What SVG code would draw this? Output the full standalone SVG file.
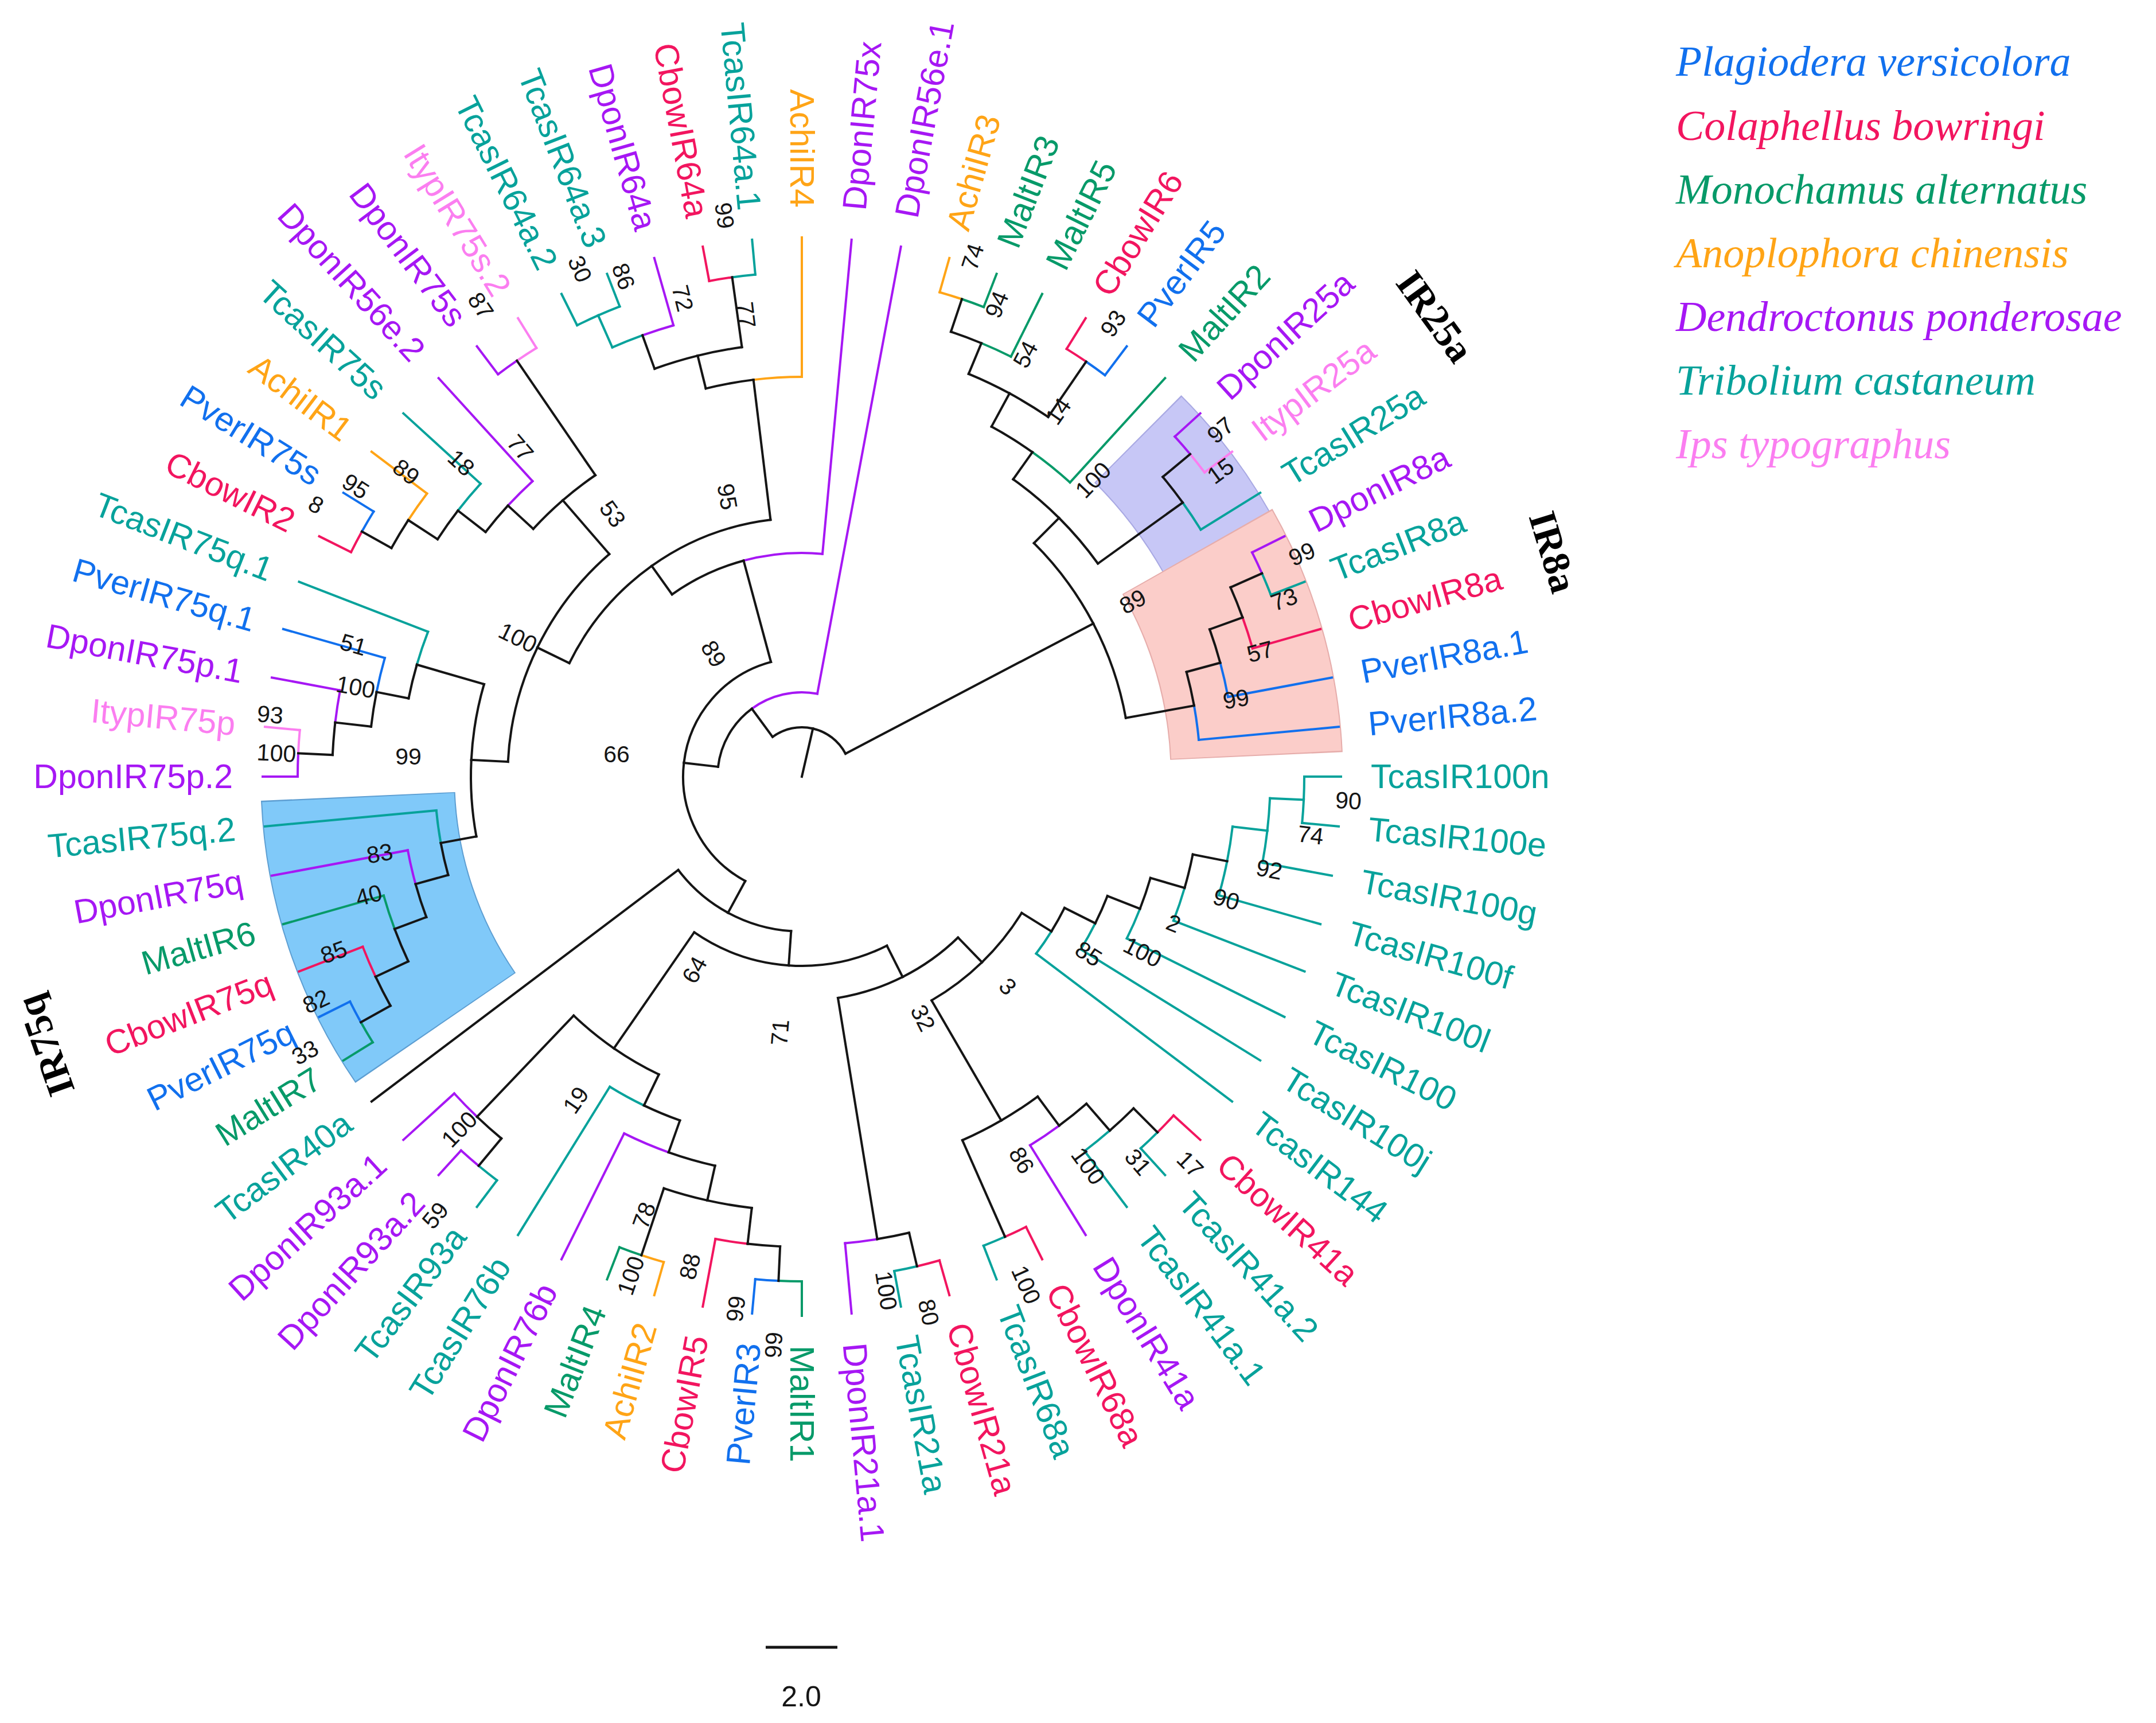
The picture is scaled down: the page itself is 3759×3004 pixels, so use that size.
<svg xmlns="http://www.w3.org/2000/svg" width="3759" height="3004" viewBox="0 0 3759 3004">
<style>
.k{stroke:#151515}
.pv{stroke:#1170ee;fill:#1170ee}
.cb{stroke:#f2155f;fill:#f2155f}
.ma{stroke:#079a69;fill:#079a69}
.ac{stroke:#ffa416;fill:#ffa416}
.dp{stroke:#a617f4;fill:#a617f4}
.tc{stroke:#07a29b;fill:#07a29b}
.it{stroke:#fb7ef0;fill:#fb7ef0}
#connectors path{fill:none}
#leaves text,#legend text{stroke:none}
#leaves{font-family:"Liberation Sans",Arial,sans-serif;font-size:59px}
.bs{font-family:"Liberation Sans",Arial,sans-serif;font-size:41px;fill:#151515;text-anchor:middle}
.cl{font-family:"Liberation Serif","Times New Roman",serif;font-size:68px;font-weight:bold;fill:#000;text-anchor:middle}
#legend text{font-family:"Liberation Serif","Times New Roman",serif;font-style:italic;font-size:74px}
.hl{fill:none}
</style>
<rect width="3759" height="3004" fill="#fff"/>
<g id="highlights" transform="translate(1398 1354)">
<path class="hl" stroke="#5d9ed2" stroke-width="339" pathLength="360" stroke-dasharray="31.9 720" transform="rotate(145.55)" d="M774.5 0A774.5 774.5 0 0 1-774.5 0A774.5 774.5 0 0 1 774.5 0"/>
<path class="hl" stroke="#80c9f9" stroke-width="335" pathLength="360" stroke-dasharray="31.6 720" transform="rotate(145.7)" d="M774.5 0A774.5 774.5 0 0 1-774.5 0A774.5 774.5 0 0 1 774.5 0"/>
<path class="hl" stroke="#a9a9e3" stroke-width="215" pathLength="360" stroke-dasharray="15.8 720" transform="rotate(-45.15)" d="M830.5 0A830.5 830.5 0 0 1-830.5 0A830.5 830.5 0 0 1 830.5 0"/>
<path class="hl" stroke="#c7c7f6" stroke-width="211" pathLength="360" stroke-dasharray="15.5 720" transform="rotate(-45)" d="M830.5 0A830.5 830.5 0 0 1-830.5 0A830.5 830.5 0 0 1 830.5 0"/>
<path class="hl" stroke="#e6adab" stroke-width="301" pathLength="360" stroke-dasharray="27.05 720" transform="rotate(-29.65)" d="M793.5 0A793.5 793.5 0 0 1-793.5 0A793.5 793.5 0 0 1 793.5 0"/>
<path class="hl" stroke="#fbcdc9" stroke-width="297" pathLength="360" stroke-dasharray="26.75 720" transform="rotate(-29.5)" d="M793.5 0A793.5 793.5 0 0 1-793.5 0A793.5 793.5 0 0 1 793.5 0"/>
</g>
<g id="connectors" transform="translate(1398 1354)" stroke-width="4" stroke-linecap="square">
<path class="dp" transform="rotate(275.294)" d="M390 0H940"/><path class="dp" pathLength="360" stroke-dasharray="20.38 720" transform="rotate(254.914)" d="M390 0A390 390 0 0 1-390 0A390 390 0 0 1 390 0"/>
<path class="dp" transform="rotate(280.588)" d="M147 0H940"/><path class="dp" pathLength="360" stroke-dasharray="46.951 720" transform="rotate(233.637)" d="M147 0A147 147 0 0 1-147 0A147 147 0 0 1 147 0"/>
<path class="ac" transform="rotate(-74.118)" d="M878 0H940"/><path class="ac" pathLength="360" stroke-dasharray="2.647 720" transform="rotate(-74.118)" d="M878 0A878 878 0 0 1-878 0A878 878 0 0 1 878 0"/>
<path class="ma" transform="rotate(-68.824)" d="M878 0H940"/><path class="ma" pathLength="360" stroke-dasharray="2.647 720" transform="rotate(-71.471)" d="M878 0A878 878 0 0 1-878 0A878 878 0 0 1 878 0"/>
<path class="ma" transform="rotate(-63.529)" d="M818 0H940"/><path class="ma" pathLength="360" stroke-dasharray="3.971 720" transform="rotate(-67.5)" d="M818 0A818 818 0 0 1-818 0A818 818 0 0 1 818 0"/>
<path class="cb" transform="rotate(-58.235)" d="M877 0H940"/><path class="cb" pathLength="360" stroke-dasharray="2.647 720" transform="rotate(-58.235)" d="M877 0A877 877 0 0 1-877 0A877 877 0 0 1 877 0"/>
<path class="pv" transform="rotate(-52.941)" d="M877 0H940"/><path class="pv" pathLength="360" stroke-dasharray="2.647 720" transform="rotate(-55.588)" d="M877 0A877 877 0 0 1-877 0A877 877 0 0 1 877 0"/>
<path class="ma" transform="rotate(-47.647)" d="M694 0H940"/><path class="ma" pathLength="360" stroke-dasharray="6.949 720" transform="rotate(-54.596)" d="M694 0A694 694 0 0 1-694 0A694 694 0 0 1 694 0"/>
<path class="dp" transform="rotate(-42.353)" d="M880 0H940"/><path class="dp" pathLength="360" stroke-dasharray="2.647 720" transform="rotate(-42.353)" d="M880 0A880 880 0 0 1-880 0A880 880 0 0 1 880 0"/>
<path class="it" transform="rotate(-37.059)" d="M880 0H940"/><path class="it" pathLength="360" stroke-dasharray="2.647 720" transform="rotate(-39.706)" d="M880 0A880 880 0 0 1-880 0A880 880 0 0 1 880 0"/>
<path class="tc" transform="rotate(-31.765)" d="M818 0H940"/><path class="tc" pathLength="360" stroke-dasharray="3.97 720" transform="rotate(-35.735)" d="M818 0A818 818 0 0 1-818 0A818 818 0 0 1 818 0"/>
<path class="dp" transform="rotate(-26.471)" d="M877 0H940"/><path class="dp" pathLength="360" stroke-dasharray="2.647 720" transform="rotate(-26.471)" d="M877 0A877 877 0 0 1-877 0A877 877 0 0 1 877 0"/>
<path class="tc" transform="rotate(-21.176)" d="M877 0H940"/><path class="tc" pathLength="360" stroke-dasharray="2.648 720" transform="rotate(-23.824)" d="M877 0A877 877 0 0 1-877 0A877 877 0 0 1 877 0"/>
<path class="cb" transform="rotate(-15.882)" d="M817 0H940"/><path class="cb" pathLength="360" stroke-dasharray="3.971 720" transform="rotate(-19.853)" d="M817 0A817 817 0 0 1-817 0A817 817 0 0 1 817 0"/>
<path class="pv" transform="rotate(-10.588)" d="M756 0H940"/><path class="pv" pathLength="360" stroke-dasharray="4.633 720" transform="rotate(-15.221)" d="M756 0A756 756 0 0 1-756 0A756 756 0 0 1 756 0"/>
<path class="pv" transform="rotate(-5.294)" d="M695 0H940"/><path class="pv" pathLength="360" stroke-dasharray="4.963 720" transform="rotate(-10.257)" d="M695 0A695 695 0 0 1-695 0A695 695 0 0 1 695 0"/>
<path class="tc" transform="rotate(0)" d="M876 0H940"/><path class="tc" pathLength="360" stroke-dasharray="2.647 720" transform="rotate(0)" d="M876 0A876 876 0 0 1-876 0A876 876 0 0 1 876 0"/>
<path class="tc" transform="rotate(5.294)" d="M876 0H940"/><path class="tc" pathLength="360" stroke-dasharray="2.647 720" transform="rotate(2.647)" d="M876 0A876 876 0 0 1-876 0A876 876 0 0 1 876 0"/>
<path class="tc" transform="rotate(10.588)" d="M817 0H940"/><path class="tc" pathLength="360" stroke-dasharray="3.97 720" transform="rotate(6.618)" d="M817 0A817 817 0 0 1-817 0A817 817 0 0 1 817 0"/>
<path class="tc" transform="rotate(15.882)" d="M756 0H940"/><path class="tc" pathLength="360" stroke-dasharray="4.632 720" transform="rotate(11.25)" d="M756 0A756 756 0 0 1-756 0A756 756 0 0 1 756 0"/>
<path class="tc" transform="rotate(21.176)" d="M695 0H940"/><path class="tc" pathLength="360" stroke-dasharray="4.963 720" transform="rotate(16.213)" d="M695 0A695 695 0 0 1-695 0A695 695 0 0 1 695 0"/>
<path class="tc" transform="rotate(26.471)" d="M633 0H940"/><path class="tc" pathLength="360" stroke-dasharray="5.129 720" transform="rotate(21.342)" d="M633 0A633 633 0 0 1-633 0A633 633 0 0 1 633 0"/>
<path class="tc" transform="rotate(31.765)" d="M572 0H940"/><path class="tc" pathLength="360" stroke-dasharray="5.212 720" transform="rotate(26.553)" d="M572 0A572 572 0 0 1-572 0A572 572 0 0 1 572 0"/>
<path class="tc" transform="rotate(37.059)" d="M512 0H940"/><path class="tc" pathLength="360" stroke-dasharray="5.253 720" transform="rotate(31.806)" d="M512 0A512 512 0 0 1-512 0A512 512 0 0 1 512 0"/>
<path class="cb" transform="rotate(42.353)" d="M877 0H940"/><path class="cb" pathLength="360" stroke-dasharray="2.647 720" transform="rotate(42.353)" d="M877 0A877 877 0 0 1-877 0A877 877 0 0 1 877 0"/>
<path class="tc" transform="rotate(47.647)" d="M877 0H940"/><path class="tc" pathLength="360" stroke-dasharray="2.647 720" transform="rotate(45)" d="M877 0A877 877 0 0 1-877 0A877 877 0 0 1 877 0"/>
<path class="tc" transform="rotate(52.941)" d="M818 0H940"/><path class="tc" pathLength="360" stroke-dasharray="3.97 720" transform="rotate(48.971)" d="M818 0A818 818 0 0 1-818 0A818 818 0 0 1 818 0"/>
<path class="dp" transform="rotate(58.235)" d="M756 0H940"/><path class="dp" pathLength="360" stroke-dasharray="4.632 720" transform="rotate(53.603)" d="M756 0A756 756 0 0 1-756 0A756 756 0 0 1 756 0"/>
<path class="cb" transform="rotate(63.529)" d="M877 0H940"/><path class="cb" pathLength="360" stroke-dasharray="2.647 720" transform="rotate(63.529)" d="M877 0A877 877 0 0 1-877 0A877 877 0 0 1 877 0"/>
<path class="tc" transform="rotate(68.824)" d="M877 0H940"/><path class="tc" pathLength="360" stroke-dasharray="2.648 720" transform="rotate(66.176)" d="M877 0A877 877 0 0 1-877 0A877 877 0 0 1 877 0"/>
<path class="cb" transform="rotate(74.118)" d="M877 0H940"/><path class="cb" pathLength="360" stroke-dasharray="2.647 720" transform="rotate(74.118)" d="M877 0A877 877 0 0 1-877 0A877 877 0 0 1 877 0"/>
<path class="tc" transform="rotate(79.412)" d="M877 0H940"/><path class="tc" pathLength="360" stroke-dasharray="2.647 720" transform="rotate(76.765)" d="M877 0A877 877 0 0 1-877 0A877 877 0 0 1 877 0"/>
<path class="dp" transform="rotate(84.706)" d="M817 0H940"/><path class="dp" pathLength="360" stroke-dasharray="3.971 720" transform="rotate(80.735)" d="M817 0A817 817 0 0 1-817 0A817 817 0 0 1 817 0"/>
<path class="ma" transform="rotate(90)" d="M880 0H940"/><path class="ma" pathLength="360" stroke-dasharray="2.647 720" transform="rotate(90)" d="M880 0A880 880 0 0 1-880 0A880 880 0 0 1 880 0"/>
<path class="pv" transform="rotate(95.294)" d="M880 0H940"/><path class="pv" pathLength="360" stroke-dasharray="2.647 720" transform="rotate(92.647)" d="M880 0A880 880 0 0 1-880 0A880 880 0 0 1 880 0"/>
<path class="cb" transform="rotate(100.588)" d="M820 0H940"/><path class="cb" pathLength="360" stroke-dasharray="3.97 720" transform="rotate(96.618)" d="M820 0A820 820 0 0 1-820 0A820 820 0 0 1 820 0"/>
<path class="ac" transform="rotate(105.882)" d="M880 0H940"/><path class="ac" pathLength="360" stroke-dasharray="2.647 720" transform="rotate(105.882)" d="M880 0A880 880 0 0 1-880 0A880 880 0 0 1 880 0"/>
<path class="ma" transform="rotate(111.176)" d="M880 0H940"/><path class="ma" pathLength="360" stroke-dasharray="2.647 720" transform="rotate(108.529)" d="M880 0A880 880 0 0 1-880 0A880 880 0 0 1 880 0"/>
<path class="dp" transform="rotate(116.471)" d="M695 0H940"/><path class="dp" pathLength="360" stroke-dasharray="6.949 720" transform="rotate(109.522)" d="M695 0A695 695 0 0 1-695 0A695 695 0 0 1 695 0"/>
<path class="tc" transform="rotate(121.765)" d="M636 0H940"/><path class="tc" pathLength="360" stroke-dasharray="6.122 720" transform="rotate(115.643)" d="M636 0A636 636 0 0 1-636 0A636 636 0 0 1 636 0"/>
<path class="tc" transform="rotate(127.059)" d="M882 0H940"/><path class="tc" pathLength="360" stroke-dasharray="2.647 720" transform="rotate(127.059)" d="M882 0A882 882 0 0 1-882 0A882 882 0 0 1 882 0"/>
<path class="dp" transform="rotate(132.353)" d="M882 0H940"/><path class="dp" pathLength="360" stroke-dasharray="2.647 720" transform="rotate(129.706)" d="M882 0A882 882 0 0 1-882 0A882 882 0 0 1 882 0"/>
<path class="dp" transform="rotate(137.647)" d="M820 0H940"/><path class="dp" pathLength="360" stroke-dasharray="3.971 720" transform="rotate(133.676)" d="M820 0A820 820 0 0 1-820 0A820 820 0 0 1 820 0"/>
<path class="k" transform="rotate(142.941)" d="M270 0H940"/><path class="k" pathLength="360" stroke-dasharray="24.483 720" transform="rotate(118.458)" d="M270 0A270 270 0 0 1-270 0A270 270 0 0 1 270 0"/>
<path class="ma" transform="rotate(148.235)" d="M880 0H940"/><path class="ma" pathLength="360" stroke-dasharray="2.647 720" transform="rotate(148.235)" d="M880 0A880 880 0 0 1-880 0A880 880 0 0 1 880 0"/>
<path class="pv" transform="rotate(153.529)" d="M880 0H940"/><path class="pv" pathLength="360" stroke-dasharray="2.647 720" transform="rotate(150.882)" d="M880 0A880 880 0 0 1-880 0A880 880 0 0 1 880 0"/>
<path class="cb" transform="rotate(158.824)" d="M821 0H940"/><path class="cb" pathLength="360" stroke-dasharray="3.971 720" transform="rotate(154.853)" d="M821 0A821 821 0 0 1-821 0A821 821 0 0 1 821 0"/>
<path class="ma" transform="rotate(164.118)" d="M758 0H940"/><path class="ma" pathLength="360" stroke-dasharray="4.633 720" transform="rotate(159.485)" d="M758 0A758 758 0 0 1-758 0A758 758 0 0 1 758 0"/>
<path class="dp" transform="rotate(169.412)" d="M699 0H940"/><path class="dp" pathLength="360" stroke-dasharray="4.963 720" transform="rotate(164.449)" d="M699 0A699 699 0 0 1-699 0A699 699 0 0 1 699 0"/>
<path class="tc" transform="rotate(174.706)" d="M640 0H940"/><path class="tc" pathLength="360" stroke-dasharray="5.129 720" transform="rotate(169.577)" d="M640 0A640 640 0 0 1-640 0A640 640 0 0 1 640 0"/>
<path class="dp" transform="rotate(180)" d="M879 0H940"/><path class="dp" pathLength="360" stroke-dasharray="2.647 720" transform="rotate(180)" d="M879 0A879 879 0 0 1-879 0A879 879 0 0 1 879 0"/>
<path class="it" transform="rotate(185.294)" d="M879 0H940"/><path class="it" pathLength="360" stroke-dasharray="2.647 720" transform="rotate(182.647)" d="M879 0A879 879 0 0 1-879 0A879 879 0 0 1 879 0"/>
<path class="dp" transform="rotate(190.588)" d="M819 0H940"/><path class="dp" pathLength="360" stroke-dasharray="3.97 720" transform="rotate(186.618)" d="M819 0A819 819 0 0 1-819 0A819 819 0 0 1 819 0"/>
<path class="pv" transform="rotate(195.882)" d="M756 0H940"/><path class="pv" pathLength="360" stroke-dasharray="4.632 720" transform="rotate(191.25)" d="M756 0A756 756 0 0 1-756 0A756 756 0 0 1 756 0"/>
<path class="tc" transform="rotate(201.176)" d="M699 0H940"/><path class="tc" pathLength="360" stroke-dasharray="4.963 720" transform="rotate(196.213)" d="M699 0A699 699 0 0 1-699 0A699 699 0 0 1 699 0"/>
<path class="cb" transform="rotate(206.471)" d="M878 0H940"/><path class="cb" pathLength="360" stroke-dasharray="2.647 720" transform="rotate(206.471)" d="M878 0A878 878 0 0 1-878 0A878 878 0 0 1 878 0"/>
<path class="pv" transform="rotate(211.765)" d="M878 0H940"/><path class="pv" pathLength="360" stroke-dasharray="2.647 720" transform="rotate(209.118)" d="M878 0A878 878 0 0 1-878 0A878 878 0 0 1 878 0"/>
<path class="ac" transform="rotate(217.059)" d="M819 0H940"/><path class="ac" pathLength="360" stroke-dasharray="3.971 720" transform="rotate(213.088)" d="M819 0A819 819 0 0 1-819 0A819 819 0 0 1 819 0"/>
<path class="tc" transform="rotate(222.353)" d="M758 0H940"/><path class="tc" pathLength="360" stroke-dasharray="4.632 720" transform="rotate(217.721)" d="M758 0A758 758 0 0 1-758 0A758 758 0 0 1 758 0"/>
<path class="dp" transform="rotate(227.647)" d="M697 0H940"/><path class="dp" pathLength="360" stroke-dasharray="4.963 720" transform="rotate(222.684)" d="M697 0A697 697 0 0 1-697 0A697 697 0 0 1 697 0"/>
<path class="dp" transform="rotate(232.941)" d="M879 0H940"/><path class="dp" pathLength="360" stroke-dasharray="2.647 720" transform="rotate(232.941)" d="M879 0A879 879 0 0 1-879 0A879 879 0 0 1 879 0"/>
<path class="it" transform="rotate(238.235)" d="M879 0H940"/><path class="it" pathLength="360" stroke-dasharray="2.647 720" transform="rotate(235.588)" d="M879 0A879 879 0 0 1-879 0A879 879 0 0 1 879 0"/>
<path class="tc" transform="rotate(243.529)" d="M879 0H940"/><path class="tc" pathLength="360" stroke-dasharray="2.647 720" transform="rotate(243.529)" d="M879 0A879 879 0 0 1-879 0A879 879 0 0 1 879 0"/>
<path class="tc" transform="rotate(248.824)" d="M879 0H940"/><path class="tc" pathLength="360" stroke-dasharray="2.648 720" transform="rotate(246.176)" d="M879 0A879 879 0 0 1-879 0A879 879 0 0 1 879 0"/>
<path class="dp" transform="rotate(254.118)" d="M818 0H940"/><path class="dp" pathLength="360" stroke-dasharray="3.971 720" transform="rotate(250.147)" d="M818 0A818 818 0 0 1-818 0A818 818 0 0 1 818 0"/>
<path class="cb" transform="rotate(259.412)" d="M879 0H940"/><path class="cb" pathLength="360" stroke-dasharray="2.647 720" transform="rotate(259.412)" d="M879 0A879 879 0 0 1-879 0A879 879 0 0 1 879 0"/>
<path class="tc" transform="rotate(264.706)" d="M879 0H940"/><path class="tc" pathLength="360" stroke-dasharray="2.647 720" transform="rotate(262.059)" d="M879 0A879 879 0 0 1-879 0A879 879 0 0 1 879 0"/>
<path class="ac" transform="rotate(270)" d="M697 0H940"/><path class="ac" pathLength="360" stroke-dasharray="6.949 720" transform="rotate(263.051)" d="M697 0A697 697 0 0 1-697 0A697 697 0 0 1 697 0"/>
<path class="k" transform="rotate(182.647)" d="M819 0H879"/><path class="k" pathLength="360" stroke-dasharray="3.971 720" transform="rotate(182.647)" d="M819 0A819 819 0 0 1-819 0A819 819 0 0 1 819 0"/>
<path class="k" transform="rotate(186.618)" d="M756 0H819"/><path class="k" pathLength="360" stroke-dasharray="4.632 720" transform="rotate(186.618)" d="M756 0A756 756 0 0 1-756 0A756 756 0 0 1 756 0"/>
<path class="k" transform="rotate(191.25)" d="M699 0H756"/><path class="k" pathLength="360" stroke-dasharray="4.963 720" transform="rotate(191.25)" d="M699 0A699 699 0 0 1-699 0A699 699 0 0 1 699 0"/>
<path class="k" transform="rotate(196.213)" d="M577 0H699"/><path class="k" pathLength="360" stroke-dasharray="13.318 720" transform="rotate(182.895)" d="M577 0A577 577 0 0 1-577 0A577 577 0 0 1 577 0"/>
<path class="k" transform="rotate(150.882)" d="M821 0H880"/><path class="k" pathLength="360" stroke-dasharray="3.971 720" transform="rotate(150.882)" d="M821 0A821 821 0 0 1-821 0A821 821 0 0 1 821 0"/>
<path class="k" transform="rotate(154.853)" d="M758 0H821"/><path class="k" pathLength="360" stroke-dasharray="4.632 720" transform="rotate(154.853)" d="M758 0A758 758 0 0 1-758 0A758 758 0 0 1 758 0"/>
<path class="k" transform="rotate(159.485)" d="M699 0H758"/><path class="k" pathLength="360" stroke-dasharray="4.964 720" transform="rotate(159.485)" d="M699 0A699 699 0 0 1-699 0A699 699 0 0 1 699 0"/>
<path class="k" transform="rotate(164.449)" d="M640 0H699"/><path class="k" pathLength="360" stroke-dasharray="5.128 720" transform="rotate(164.449)" d="M640 0A640 640 0 0 1-640 0A640 640 0 0 1 640 0"/>
<path class="k" transform="rotate(169.577)" d="M577 0H640"/><path class="k" pathLength="360" stroke-dasharray="13.318 720" transform="rotate(169.577)" d="M577 0A577 577 0 0 1-577 0A577 577 0 0 1 577 0"/>
<path class="k" transform="rotate(182.895)" d="M513 0H577"/><path class="k" pathLength="360" stroke-dasharray="23.121 720" transform="rotate(182.895)" d="M513 0A513 513 0 0 1-513 0A513 513 0 0 1 513 0"/>
<path class="k" transform="rotate(209.118)" d="M819 0H878"/><path class="k" pathLength="360" stroke-dasharray="3.97 720" transform="rotate(209.118)" d="M819 0A819 819 0 0 1-819 0A819 819 0 0 1 819 0"/>
<path class="k" transform="rotate(213.088)" d="M758 0H819"/><path class="k" pathLength="360" stroke-dasharray="4.633 720" transform="rotate(213.088)" d="M758 0A758 758 0 0 1-758 0A758 758 0 0 1 758 0"/>
<path class="k" transform="rotate(217.721)" d="M697 0H758"/><path class="k" pathLength="360" stroke-dasharray="4.963 720" transform="rotate(217.721)" d="M697 0A697 697 0 0 1-697 0A697 697 0 0 1 697 0"/>
<path class="k" transform="rotate(222.684)" d="M637 0H697"/><path class="k" pathLength="360" stroke-dasharray="6.452 720" transform="rotate(222.684)" d="M637 0A637 637 0 0 1-637 0A637 637 0 0 1 637 0"/>
<path class="k" transform="rotate(235.588)" d="M637 0H879"/><path class="k" pathLength="360" stroke-dasharray="6.452 720" transform="rotate(229.136)" d="M637 0A637 637 0 0 1-637 0A637 637 0 0 1 637 0"/>
<path class="k" transform="rotate(229.136)" d="M513 0H637"/><path class="k" pathLength="360" stroke-dasharray="23.12 720" transform="rotate(206.016)" d="M513 0A513 513 0 0 1-513 0A513 513 0 0 1 513 0"/>
<path class="k" transform="rotate(206.016)" d="M451 0H513"/><path class="k" pathLength="360" stroke-dasharray="28.518 720" transform="rotate(206.016)" d="M451 0A451 451 0 0 1-451 0A451 451 0 0 1 451 0"/>
<path class="tc" transform="rotate(246.176)" d="M818 0H879"/><path class="tc" pathLength="360" stroke-dasharray="3.971 720" transform="rotate(246.176)" d="M818 0A818 818 0 0 1-818 0A818 818 0 0 1 818 0"/>
<path class="k" transform="rotate(250.147)" d="M756 0H818"/><path class="k" pathLength="360" stroke-dasharray="5.956 720" transform="rotate(250.147)" d="M756 0A756 756 0 0 1-756 0A756 756 0 0 1 756 0"/>
<path class="k" transform="rotate(262.059)" d="M756 0H879"/><path class="k" pathLength="360" stroke-dasharray="5.956 720" transform="rotate(256.103)" d="M756 0A756 756 0 0 1-756 0A756 756 0 0 1 756 0"/>
<path class="k" transform="rotate(256.103)" d="M697 0H756"/><path class="k" pathLength="360" stroke-dasharray="6.948 720" transform="rotate(256.103)" d="M697 0A697 697 0 0 1-697 0A697 697 0 0 1 697 0"/>
<path class="k" transform="rotate(263.051)" d="M451 0H697"/><path class="k" pathLength="360" stroke-dasharray="28.517 720" transform="rotate(234.534)" d="M451 0A451 451 0 0 1-451 0A451 451 0 0 1 451 0"/>
<path class="k" transform="rotate(234.534)" d="M390 0H451"/><path class="k" pathLength="360" stroke-dasharray="20.38 720" transform="rotate(234.534)" d="M390 0A390 390 0 0 1-390 0A390 390 0 0 1 390 0"/>
<path class="k" transform="rotate(254.914)" d="M207 0H390"/><path class="k" pathLength="360" stroke-dasharray="68.228 720" transform="rotate(186.686)" d="M207 0A207 207 0 0 1-207 0A207 207 0 0 1 207 0"/>
<path class="k" transform="rotate(129.706)" d="M820 0H882"/><path class="k" pathLength="360" stroke-dasharray="3.97 720" transform="rotate(129.706)" d="M820 0A820 820 0 0 1-820 0A820 820 0 0 1 820 0"/>
<path class="k" transform="rotate(133.676)" d="M576 0H820"/><path class="k" pathLength="360" stroke-dasharray="9.016 720" transform="rotate(124.66)" d="M576 0A576 576 0 0 1-576 0A576 576 0 0 1 576 0"/>
<path class="k" transform="rotate(92.647)" d="M820 0H880"/><path class="k" pathLength="360" stroke-dasharray="3.971 720" transform="rotate(92.647)" d="M820 0A820 820 0 0 1-820 0A820 820 0 0 1 820 0"/>
<path class="k" transform="rotate(96.618)" d="M757 0H820"/><path class="k" pathLength="360" stroke-dasharray="5.956 720" transform="rotate(96.618)" d="M757 0A757 757 0 0 1-757 0A757 757 0 0 1 757 0"/>
<path class="k" transform="rotate(108.529)" d="M757 0H880"/><path class="k" pathLength="360" stroke-dasharray="5.955 720" transform="rotate(102.574)" d="M757 0A757 757 0 0 1-757 0A757 757 0 0 1 757 0"/>
<path class="k" transform="rotate(102.574)" d="M695 0H757"/><path class="k" pathLength="360" stroke-dasharray="6.948 720" transform="rotate(102.574)" d="M695 0A695 695 0 0 1-695 0A695 695 0 0 1 695 0"/>
<path class="k" transform="rotate(109.522)" d="M636 0H695"/><path class="k" pathLength="360" stroke-dasharray="6.121 720" transform="rotate(109.522)" d="M636 0A636 636 0 0 1-636 0A636 636 0 0 1 636 0"/>
<path class="k" transform="rotate(115.643)" d="M576 0H636"/><path class="k" pathLength="360" stroke-dasharray="9.017 720" transform="rotate(115.643)" d="M576 0A576 576 0 0 1-576 0A576 576 0 0 1 576 0"/>
<path class="k" transform="rotate(124.66)" d="M330 0H576"/><path class="k" pathLength="360" stroke-dasharray="30.685 720" transform="rotate(93.975)" d="M330 0A330 330 0 0 1-330 0A330 330 0 0 1 330 0"/>
<path class="k" transform="rotate(76.765)" d="M817 0H877"/><path class="k" pathLength="360" stroke-dasharray="3.97 720" transform="rotate(76.765)" d="M817 0A817 817 0 0 1-817 0A817 817 0 0 1 817 0"/>
<path class="k" transform="rotate(80.735)" d="M391 0H817"/><path class="k" pathLength="360" stroke-dasharray="17.445 720" transform="rotate(63.29)" d="M391 0A391 391 0 0 1-391 0A391 391 0 0 1 391 0"/>
<path class="k" transform="rotate(66.176)" d="M693 0H877"/><path class="k" pathLength="360" stroke-dasharray="6.286 720" transform="rotate(59.89)" d="M693 0A693 693 0 0 1-693 0A693 693 0 0 1 693 0"/>
<path class="k" transform="rotate(45)" d="M818 0H877"/><path class="k" pathLength="360" stroke-dasharray="3.971 720" transform="rotate(45)" d="M818 0A818 818 0 0 1-818 0A818 818 0 0 1 818 0"/>
<path class="k" transform="rotate(48.971)" d="M756 0H818"/><path class="k" pathLength="360" stroke-dasharray="4.632 720" transform="rotate(48.971)" d="M756 0A756 756 0 0 1-756 0A756 756 0 0 1 756 0"/>
<path class="k" transform="rotate(53.603)" d="M693 0H756"/><path class="k" pathLength="360" stroke-dasharray="6.287 720" transform="rotate(53.603)" d="M693 0A693 693 0 0 1-693 0A693 693 0 0 1 693 0"/>
<path class="k" transform="rotate(59.89)" d="M451 0H693"/><path class="k" pathLength="360" stroke-dasharray="14.042 720" transform="rotate(45.848)" d="M451 0A451 451 0 0 1-451 0A451 451 0 0 1 451 0"/>
<path class="tc" transform="rotate(2.647)" d="M817 0H876"/><path class="tc" pathLength="360" stroke-dasharray="3.971 720" transform="rotate(2.647)" d="M817 0A817 817 0 0 1-817 0A817 817 0 0 1 817 0"/>
<path class="tc" transform="rotate(6.618)" d="M756 0H817"/><path class="tc" pathLength="360" stroke-dasharray="4.632 720" transform="rotate(6.618)" d="M756 0A756 756 0 0 1-756 0A756 756 0 0 1 756 0"/>
<path class="k" transform="rotate(11.25)" d="M695 0H756"/><path class="k" pathLength="360" stroke-dasharray="4.963 720" transform="rotate(11.25)" d="M695 0A695 695 0 0 1-695 0A695 695 0 0 1 695 0"/>
<path class="k" transform="rotate(16.213)" d="M633 0H695"/><path class="k" pathLength="360" stroke-dasharray="5.129 720" transform="rotate(16.213)" d="M633 0A633 633 0 0 1-633 0A633 633 0 0 1 633 0"/>
<path class="k" transform="rotate(21.342)" d="M572 0H633"/><path class="k" pathLength="360" stroke-dasharray="5.211 720" transform="rotate(21.342)" d="M572 0A572 572 0 0 1-572 0A572 572 0 0 1 572 0"/>
<path class="k" transform="rotate(26.553)" d="M512 0H572"/><path class="k" pathLength="360" stroke-dasharray="5.253 720" transform="rotate(26.553)" d="M512 0A512 512 0 0 1-512 0A512 512 0 0 1 512 0"/>
<path class="k" transform="rotate(31.806)" d="M451 0H512"/><path class="k" pathLength="360" stroke-dasharray="14.042 720" transform="rotate(31.806)" d="M451 0A451 451 0 0 1-451 0A451 451 0 0 1 451 0"/>
<path class="k" transform="rotate(45.848)" d="M391 0H451"/><path class="k" pathLength="360" stroke-dasharray="17.442 720" transform="rotate(45.848)" d="M391 0A391 391 0 0 1-391 0A391 391 0 0 1 391 0"/>
<path class="k" transform="rotate(63.29)" d="M330 0H391"/><path class="k" pathLength="360" stroke-dasharray="30.685 720" transform="rotate(63.29)" d="M330 0A330 330 0 0 1-330 0A330 330 0 0 1 330 0"/>
<path class="k" transform="rotate(93.975)" d="M270 0H330"/><path class="k" pathLength="360" stroke-dasharray="24.483 720" transform="rotate(93.975)" d="M270 0A270 270 0 0 1-270 0A270 270 0 0 1 270 0"/>
<path class="k" transform="rotate(118.458)" d="M207 0H270"/><path class="k" pathLength="360" stroke-dasharray="68.228 720" transform="rotate(118.458)" d="M207 0A207 207 0 0 1-207 0A207 207 0 0 1 207 0"/>
<path class="k" transform="rotate(186.686)" d="M147 0H207"/><path class="k" pathLength="360" stroke-dasharray="46.951 720" transform="rotate(186.686)" d="M147 0A147 147 0 0 1-147 0A147 147 0 0 1 147 0"/>
<path class="k" transform="rotate(233.637)" d="M86 0H147"/><path class="k" pathLength="360" stroke-dasharray="49.326 720" transform="rotate(233.637)" d="M86 0A86 86 0 0 1-86 0A86 86 0 0 1 86 0"/>
<path class="k" transform="rotate(-71.471)" d="M818 0H878"/><path class="k" pathLength="360" stroke-dasharray="3.971 720" transform="rotate(-71.471)" d="M818 0A818 818 0 0 1-818 0A818 818 0 0 1 818 0"/>
<path class="k" transform="rotate(-67.5)" d="M760 0H818"/><path class="k" pathLength="360" stroke-dasharray="5.956 720" transform="rotate(-67.5)" d="M760 0A760 760 0 0 1-760 0A760 760 0 0 1 760 0"/>
<path class="k" transform="rotate(-55.588)" d="M760 0H877"/><path class="k" pathLength="360" stroke-dasharray="5.956 720" transform="rotate(-61.544)" d="M760 0A760 760 0 0 1-760 0A760 760 0 0 1 760 0"/>
<path class="k" transform="rotate(-61.544)" d="M694 0H760"/><path class="k" pathLength="360" stroke-dasharray="6.948 720" transform="rotate(-61.544)" d="M694 0A694 694 0 0 1-694 0A694 694 0 0 1 694 0"/>
<path class="k" transform="rotate(-54.596)" d="M636 0H694"/><path class="k" pathLength="360" stroke-dasharray="9.431 720" transform="rotate(-54.596)" d="M636 0A636 636 0 0 1-636 0A636 636 0 0 1 636 0"/>
<path class="k" transform="rotate(-39.706)" d="M818 0H880"/><path class="k" pathLength="360" stroke-dasharray="3.971 720" transform="rotate(-39.706)" d="M818 0A818 818 0 0 1-818 0A818 818 0 0 1 818 0"/>
<path class="k" transform="rotate(-35.735)" d="M636 0H818"/><path class="k" pathLength="360" stroke-dasharray="9.43 720" transform="rotate(-45.165)" d="M636 0A636 636 0 0 1-636 0A636 636 0 0 1 636 0"/>
<path class="k" transform="rotate(-45.165)" d="M574 0H636"/><path class="k" pathLength="360" stroke-dasharray="17.454 720" transform="rotate(-45.165)" d="M574 0A574 574 0 0 1-574 0A574 574 0 0 1 574 0"/>
<path class="k" transform="rotate(-23.824)" d="M817 0H877"/><path class="k" pathLength="360" stroke-dasharray="3.971 720" transform="rotate(-23.824)" d="M817 0A817 817 0 0 1-817 0A817 817 0 0 1 817 0"/>
<path class="k" transform="rotate(-19.853)" d="M756 0H817"/><path class="k" pathLength="360" stroke-dasharray="4.632 720" transform="rotate(-19.853)" d="M756 0A756 756 0 0 1-756 0A756 756 0 0 1 756 0"/>
<path class="k" transform="rotate(-15.221)" d="M695 0H756"/><path class="k" pathLength="360" stroke-dasharray="4.964 720" transform="rotate(-15.221)" d="M695 0A695 695 0 0 1-695 0A695 695 0 0 1 695 0"/>
<path class="k" transform="rotate(-10.257)" d="M574 0H695"/><path class="k" pathLength="360" stroke-dasharray="17.454 720" transform="rotate(-27.711)" d="M574 0A574 574 0 0 1-574 0A574 574 0 0 1 574 0"/>
<path class="k" transform="rotate(-27.711)" d="M86 0H574"/><path class="k" pathLength="360" stroke-dasharray="49.326 720" transform="rotate(-77.037)" d="M86 0A86 86 0 0 1-86 0A86 86 0 0 1 86 0"/>
<path class="k" transform="rotate(-77.037)" d="M0 0H86"/>
</g>
<g id="leaves" transform="translate(1398 1354)">
<g id="leaf-DponIR75x"><text class="dp" transform="rotate(-84.706)" x="992" y="20">DponIR75x</text></g>
<g id="leaf-DponIR56e_1"><text class="dp" transform="rotate(-79.412)" x="992" y="20">DponIR56e.1</text></g>
<g id="leaf-AchiIR3"><text class="ac" transform="rotate(-74.118)" x="992" y="20">AchiIR3</text></g>
<g id="leaf-MaltIR3"><text class="ma" transform="rotate(-68.824)" x="992" y="20">MaltIR3</text></g>
<g id="leaf-MaltIR5"><text class="ma" transform="rotate(-63.529)" x="992" y="20">MaltIR5</text></g>
<g id="leaf-CbowIR6"><text class="cb" transform="rotate(-58.235)" x="992" y="20">CbowIR6</text></g>
<g id="leaf-PverIR5"><text class="pv" transform="rotate(-52.941)" x="992" y="20">PverIR5</text></g>
<g id="leaf-MaltIR2"><text class="ma" transform="rotate(-47.647)" x="992" y="20">MaltIR2</text></g>
<g id="leaf-DponIR25a"><text class="dp" transform="rotate(-42.353)" x="992" y="20">DponIR25a</text></g>
<g id="leaf-ItypIR25a"><text class="it" transform="rotate(-37.059)" x="992" y="20">ItypIR25a</text></g>
<g id="leaf-TcasIR25a"><text class="tc" transform="rotate(-31.765)" x="992" y="20">TcasIR25a</text></g>
<g id="leaf-DponIR8a"><text class="dp" transform="rotate(-26.471)" x="992" y="20">DponIR8a</text></g>
<g id="leaf-TcasIR8a"><text class="tc" transform="rotate(-21.176)" x="992" y="20">TcasIR8a</text></g>
<g id="leaf-CbowIR8a"><text class="cb" transform="rotate(-15.882)" x="992" y="20">CbowIR8a</text></g>
<g id="leaf-PverIR8a_1"><text class="pv" transform="rotate(-10.588)" x="992" y="20">PverIR8a.1</text></g>
<g id="leaf-PverIR8a_2"><text class="pv" transform="rotate(-5.294)" x="992" y="20">PverIR8a.2</text></g>
<g id="leaf-TcasIR100n"><text class="tc" transform="rotate(0)" x="992" y="20">TcasIR100n</text></g>
<g id="leaf-TcasIR100e"><text class="tc" transform="rotate(5.294)" x="992" y="20">TcasIR100e</text></g>
<g id="leaf-TcasIR100g"><text class="tc" transform="rotate(10.588)" x="992" y="20">TcasIR100g</text></g>
<g id="leaf-TcasIR100f"><text class="tc" transform="rotate(15.882)" x="992" y="20">TcasIR100f</text></g>
<g id="leaf-TcasIR100l"><text class="tc" transform="rotate(21.176)" x="992" y="20">TcasIR100l</text></g>
<g id="leaf-TcasIR100"><text class="tc" transform="rotate(26.471)" x="992" y="20">TcasIR100</text></g>
<g id="leaf-TcasIR100j"><text class="tc" transform="rotate(31.765)" x="992" y="20">TcasIR100j</text></g>
<g id="leaf-TcasIR144"><text class="tc" transform="rotate(37.059)" x="992" y="20">TcasIR144</text></g>
<g id="leaf-CbowIR41a"><text class="cb" transform="rotate(42.353)" x="992" y="20">CbowIR41a</text></g>
<g id="leaf-TcasIR41a_2"><text class="tc" transform="rotate(47.647)" x="992" y="20">TcasIR41a.2</text></g>
<g id="leaf-TcasIR41a_1"><text class="tc" transform="rotate(52.941)" x="992" y="20">TcasIR41a.1</text></g>
<g id="leaf-DponIR41a"><text class="dp" transform="rotate(58.235)" x="992" y="20">DponIR41a</text></g>
<g id="leaf-CbowIR68a"><text class="cb" transform="rotate(63.529)" x="992" y="20">CbowIR68a</text></g>
<g id="leaf-TcasIR68a"><text class="tc" transform="rotate(68.824)" x="992" y="20">TcasIR68a</text></g>
<g id="leaf-CbowIR21a"><text class="cb" transform="rotate(74.118)" x="992" y="20">CbowIR21a</text></g>
<g id="leaf-TcasIR21a"><text class="tc" transform="rotate(79.412)" x="992" y="20">TcasIR21a</text></g>
<g id="leaf-DponIR21a_1"><text class="dp" transform="rotate(84.706)" x="992" y="20">DponIR21a.1</text></g>
<g id="leaf-MaltIR1"><text class="ma" transform="rotate(90)" x="992" y="20">MaltIR1</text></g>
<g id="leaf-PverIR3"><text class="pv" transform="rotate(-84.706)" x="-992" y="20" text-anchor="end">PverIR3</text></g>
<g id="leaf-CbowIR5"><text class="cb" transform="rotate(-79.412)" x="-992" y="20" text-anchor="end">CbowIR5</text></g>
<g id="leaf-AchiIR2"><text class="ac" transform="rotate(-74.118)" x="-992" y="20" text-anchor="end">AchiIR2</text></g>
<g id="leaf-MaltIR4"><text class="ma" transform="rotate(-68.824)" x="-992" y="20" text-anchor="end">MaltIR4</text></g>
<g id="leaf-DponIR76b"><text class="dp" transform="rotate(-63.529)" x="-992" y="20" text-anchor="end">DponIR76b</text></g>
<g id="leaf-TcasIR76b"><text class="tc" transform="rotate(-58.235)" x="-992" y="20" text-anchor="end">TcasIR76b</text></g>
<g id="leaf-TcasIR93a"><text class="tc" transform="rotate(-52.941)" x="-992" y="20" text-anchor="end">TcasIR93a</text></g>
<g id="leaf-DponIR93a_2"><text class="dp" transform="rotate(-47.647)" x="-992" y="20" text-anchor="end">DponIR93a.2</text></g>
<g id="leaf-DponIR93a_1"><text class="dp" transform="rotate(-42.353)" x="-992" y="20" text-anchor="end">DponIR93a.1</text></g>
<g id="leaf-TcasIR40a"><text class="tc" transform="rotate(-37.059)" x="-992" y="20" text-anchor="end">TcasIR40a</text></g>
<g id="leaf-MaltIR7"><text class="ma" transform="rotate(-31.765)" x="-992" y="20" text-anchor="end">MaltIR7</text></g>
<g id="leaf-PverIR75q"><text class="pv" transform="rotate(-26.471)" x="-992" y="20" text-anchor="end">PverIR75q</text></g>
<g id="leaf-CbowIR75q"><text class="cb" transform="rotate(-21.176)" x="-992" y="20" text-anchor="end">CbowIR75q</text></g>
<g id="leaf-MaltIR6"><text class="ma" transform="rotate(-15.882)" x="-992" y="20" text-anchor="end">MaltIR6</text></g>
<g id="leaf-DponIR75q"><text class="dp" transform="rotate(-10.588)" x="-992" y="20" text-anchor="end">DponIR75q</text></g>
<g id="leaf-TcasIR75q_2"><text class="tc" transform="rotate(-5.294)" x="-992" y="20" text-anchor="end">TcasIR75q.2</text></g>
<g id="leaf-DponIR75p_2"><text class="dp" transform="rotate(0)" x="-992" y="20" text-anchor="end">DponIR75p.2</text></g>
<g id="leaf-ItypIR75p"><text class="it" transform="rotate(5.294)" x="-992" y="20" text-anchor="end">ItypIR75p</text></g>
<g id="leaf-DponIR75p_1"><text class="dp" transform="rotate(10.588)" x="-992" y="20" text-anchor="end">DponIR75p.1</text></g>
<g id="leaf-PverIR75q_1"><text class="pv" transform="rotate(15.882)" x="-992" y="20" text-anchor="end">PverIR75q.1</text></g>
<g id="leaf-TcasIR75q_1"><text class="tc" transform="rotate(21.176)" x="-992" y="20" text-anchor="end">TcasIR75q.1</text></g>
<g id="leaf-CbowIR2"><text class="cb" transform="rotate(26.471)" x="-992" y="20" text-anchor="end">CbowIR2</text></g>
<g id="leaf-PverIR75s"><text class="pv" transform="rotate(31.765)" x="-992" y="20" text-anchor="end">PverIR75s</text></g>
<g id="leaf-AchiIR1"><text class="ac" transform="rotate(37.059)" x="-992" y="20" text-anchor="end">AchiIR1</text></g>
<g id="leaf-TcasIR75s"><text class="tc" transform="rotate(42.353)" x="-992" y="20" text-anchor="end">TcasIR75s</text></g>
<g id="leaf-DponIR56e_2"><text class="dp" transform="rotate(47.647)" x="-992" y="20" text-anchor="end">DponIR56e.2</text></g>
<g id="leaf-DponIR75s"><text class="dp" transform="rotate(52.941)" x="-992" y="20" text-anchor="end">DponIR75s</text></g>
<g id="leaf-ItypIR75s_2"><text class="it" transform="rotate(58.235)" x="-992" y="20" text-anchor="end">ItypIR75s.2</text></g>
<g id="leaf-TcasIR64a_2"><text class="tc" transform="rotate(63.529)" x="-992" y="20" text-anchor="end">TcasIR64a.2</text></g>
<g id="leaf-TcasIR64a_3"><text class="tc" transform="rotate(68.824)" x="-992" y="20" text-anchor="end">TcasIR64a.3</text></g>
<g id="leaf-DponIR64a"><text class="dp" transform="rotate(74.118)" x="-992" y="20" text-anchor="end">DponIR64a</text></g>
<g id="leaf-CbowIR64a"><text class="cb" transform="rotate(79.412)" x="-992" y="20" text-anchor="end">CbowIR64a</text></g>
<g id="leaf-TcasIR64a_1"><text class="tc" transform="rotate(84.706)" x="-992" y="20" text-anchor="end">TcasIR64a.1</text></g>
<g id="leaf-AchiIR4"><text class="ac" transform="rotate(90)" x="-992" y="20" text-anchor="end">AchiIR4</text></g>
</g>
<g id="bootstrap">
<text class="bs" transform="translate(551 880) rotate(29)" y="14">8</text>
<text class="bs" transform="translate(620 848) rotate(33)" y="14">95</text>
<text class="bs" transform="translate(708 823) rotate(38)" y="14">89</text>
<text class="bs" transform="translate(804 807) rotate(43)" y="14">18</text>
<text class="bs" transform="translate(907 781) rotate(49)" y="14">77</text>
<text class="bs" transform="translate(838 533) rotate(56)" y="14">87</text>
<text class="bs" transform="translate(1068 896) rotate(54)" y="14">53</text>
<text class="bs" transform="translate(1011 469) rotate(66)" y="14">30</text>
<text class="bs" transform="translate(1087 482) rotate(70)" y="14">86</text>
<text class="bs" transform="translate(1190 520) rotate(76)" y="14">72</text>
<text class="bs" transform="translate(1263 376) rotate(82)" y="14">99</text>
<text class="bs" transform="translate(1301 549) rotate(83)" y="14">77</text>
<text class="bs" transform="translate(1268 866) rotate(80)" y="14">95</text>
<text class="bs" transform="translate(1244 1140) rotate(60)" y="14">89</text>
<text class="bs" transform="translate(1075 1315)" y="14">66</text>
<text class="bs" transform="translate(903 1112) rotate(26)" y="14">100</text>
<text class="bs" transform="translate(616 1124) rotate(16)" y="14">51</text>
<text class="bs" transform="translate(620 1198) rotate(10)" y="14">100</text>
<text class="bs" transform="translate(471 1246) rotate(5)" y="14">93</text>
<text class="bs" transform="translate(482 1313) rotate(3)" y="14">100</text>
<text class="bs" transform="translate(712 1319)" y="14">99</text>
<text class="bs" transform="translate(662 1488) rotate(-10)" y="14">83</text>
<text class="bs" transform="translate(643 1561) rotate(-15)" y="14">40</text>
<text class="bs" transform="translate(582 1660) rotate(-20)" y="14">85</text>
<text class="bs" transform="translate(551 1746) rotate(-25)" y="14">82</text>
<text class="bs" transform="translate(532 1835) rotate(-29)" y="14">33</text>
<text class="bs" transform="translate(801 1969) rotate(-46)" y="14">100</text>
<text class="bs" transform="translate(759 2119) rotate(-50)" y="14">59</text>
<text class="bs" transform="translate(1004 1918) rotate(-55)" y="14">19</text>
<text class="bs" transform="translate(1123 2119) rotate(-70)" y="14">78</text>
<text class="bs" transform="translate(1100 2224) rotate(-71)" y="14">100</text>
<text class="bs" transform="translate(1203 2208) rotate(-77)" y="14">88</text>
<text class="bs" transform="translate(1283 2282) rotate(-83)" y="14">99</text>
<text class="bs" transform="translate(1349 2345) rotate(-87)" y="14">99</text>
<text class="bs" transform="translate(1211 1691) rotate(-61)" y="14">64</text>
<text class="bs" transform="translate(1360 1800) rotate(-85)" y="14">71</text>
<text class="bs" transform="translate(1545 2250) rotate(81)" y="14">100</text>
<text class="bs" transform="translate(1619 2288) rotate(77)" y="14">80</text>
<text class="bs" transform="translate(1789 2240) rotate(66)" y="14">100</text>
<text class="bs" transform="translate(1781 2023) rotate(60)" y="14">86</text>
<text class="bs" transform="translate(1897 2033) rotate(54)" y="14">100</text>
<text class="bs" transform="translate(1984 2026) rotate(49)" y="14">31</text>
<text class="bs" transform="translate(2075 2030) rotate(45)" y="14">17</text>
<text class="bs" transform="translate(1609 1775) rotate(63)" y="14">32</text>
<text class="bs" transform="translate(1757 1720) rotate(46)" y="14">3</text>
<text class="bs" transform="translate(1898 1663) rotate(32)" y="14">85</text>
<text class="bs" transform="translate(1992 1660) rotate(27)" y="14">100</text>
<text class="bs" transform="translate(2046 1610) rotate(22)" y="14">2</text>
<text class="bs" transform="translate(2138 1568) rotate(16)" y="14">90</text>
<text class="bs" transform="translate(2213 1516) rotate(11)" y="14">92</text>
<text class="bs" transform="translate(2285 1456) rotate(7)" y="14">74</text>
<text class="bs" transform="translate(2351 1396) rotate(3)" y="14">90</text>
<text class="bs" transform="translate(1696 448) rotate(-72)" y="14">74</text>
<text class="bs" transform="translate(1738 531) rotate(-68)" y="14">94</text>
<text class="bs" transform="translate(1788 618) rotate(-62)" y="14">54</text>
<text class="bs" transform="translate(1941 564) rotate(-56)" y="14">93</text>
<text class="bs" transform="translate(1845 717) rotate(-55)" y="14">14</text>
<text class="bs" transform="translate(1906 837) rotate(-46)" y="14">100</text>
<text class="bs" transform="translate(2128 750) rotate(-40)" y="14">97</text>
<text class="bs" transform="translate(2128 821) rotate(-36)" y="14">15</text>
<text class="bs" transform="translate(2270 966) rotate(-24)" y="14">99</text>
<text class="bs" transform="translate(2239 1045) rotate(-20)" y="14">73</text>
<text class="bs" transform="translate(1975 1049) rotate(-28)" y="14">89</text>
<text class="bs" transform="translate(2197 1136) rotate(-15)" y="14">57</text>
<text class="bs" transform="translate(2155 1219) rotate(-10)" y="14">99</text>
</g>
<g id="clades">
<text class="cl" transform="translate(2503 551) rotate(54)" y="24">IR25a</text>
<text class="cl" transform="translate(2709 962) rotate(73)" y="24">IR8a</text>
<text class="cl" transform="translate(78 1823) rotate(-109.5)" y="24">IR75q</text>
</g>
<g id="legend">
<text class="pv" x="2922" y="132">Plagiodera versicolora</text>
<text class="cb" x="2922" y="244">Colaphellus bowringi</text>
<text class="ma" x="2922" y="355">Monochamus alternatus</text>
<text class="ac" x="2922" y="466">Anoplophora chinensis</text>
<text class="dp" x="2922" y="577">Dendroctonus ponderosae</text>
<text class="tc" x="2922" y="688">Tribolium castaneum</text>
<text class="it" x="2922" y="799">Ips typographus</text>
</g>
<g id="scalebar">
<path d="M1335 2872H1460" stroke="#151515" stroke-width="5"/>
<text x="1397" y="2975" text-anchor="middle" font-family="Liberation Sans, Arial, sans-serif" font-size="50" fill="#151515">2.0</text>
</g>
</svg>
